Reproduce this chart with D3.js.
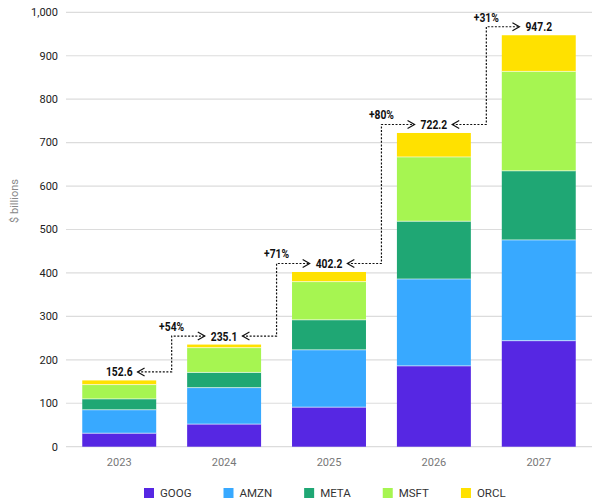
<!DOCTYPE html>
<html><head><meta charset="utf-8">
<script src="https://cdn.jsdelivr.net/npm/d3@7"></script>
<style>body{margin:0;background:#fff}svg{display:block}</style>
</head><body>
<svg id="c" width="600" height="503"></svg>
<script>
const years = ["2023","2024","2025","2026","2027"];
const seriesNames = ["GOOG","AMZN","META","MSFT","ORCL"];
const GOOG = [31, 52, 91, 186, 244];
const AMZN = [54, 84, 132, 200, 232];
const META = [25, 35, 69, 133, 159];
const MSFT = [33, 57, 88, 148, 229];
const ORCL = [9.6, 7.1, 22.2, 55.2, 83.2];
const totalLabels = ["152.6","235.1","402.2","722.2","947.2"];
const growthLabels = ["+54%","+71%","+80%","+31%"];
const yTicks = [0,100,200,300,400,500,600,700,800,900,1000];
const colors = ["#5627E3","#38A9FF","#1FA774","#A6F551","#FFE100"];

const svg = d3.select("#c");
const x = d3.scaleBand().domain(years).range([66, 592]).paddingInner(0.295).paddingOuter(0.155);
const y = d3.scaleLinear().domain([0, 1000]).range([446.7, 12.3]);

const rows = years.map((yr, i) => ({year: yr, GOOG: GOOG[i], AMZN: AMZN[i], META: META[i], MSFT: MSFT[i], ORCL: ORCL[i]}));
const stack = d3.stack().keys(seriesNames)(rows);

// grid
svg.append("g").selectAll("line").data(yTicks).join("line")
  .attr("x1", 66).attr("x2", 592)
  .attr("y1", d => y(d)).attr("y2", d => y(d))
  .attr("stroke", "#dcdcdc").attr("stroke-width", 1.2);
svg.append("g").selectAll("text").data(yTicks).join("text")
  .attr("x", 58).attr("y", d => y(d)).attr("dy", "0.35em")
  .attr("text-anchor", "end").attr("font-family", "Roboto, sans-serif")
  .attr("font-size", 11).attr("fill", "#222").text(d => d3.format(",")(d));

svg.append("text").attr("transform", "translate(18,201) rotate(-90)")
  .attr("text-anchor", "middle").attr("font-family", "Roboto, sans-serif")
  .attr("font-size", 11).attr("fill", "#888").text("$ billions");

// bars
stack.forEach((s, si) => {
  svg.append("g").selectAll("rect").data(s).join("rect")
    .attr("x", d => x(d.data.year)).attr("width", x.bandwidth())
    .attr("y", d => y(d[1])).attr("height", d => y(d[0]) - y(d[1]))
    .attr("fill", colors[si]);
});
// thin separators
stack.slice(1).forEach(s => {
  svg.append("g").selectAll("line").data(s).join("line")
    .attr("x1", d => x(d.data.year)).attr("x2", d => x(d.data.year) + x.bandwidth())
    .attr("y1", d => y(d[0])).attr("y2", d => y(d[0]))
    .attr("stroke", "#fff").attr("stroke-opacity", 0.6).attr("stroke-width", 1);
});

// x labels
svg.append("g").selectAll("text").data(years).join("text")
  .attr("x", d => x(d) + x.bandwidth() / 2).attr("y", 466)
  .attr("text-anchor", "middle").attr("font-family", "Roboto, sans-serif")
  .attr("font-size", 11).attr("fill", "#777").text(d => d);

// condensed bold label helper
const SX = 0.86;
function boldLabel(cx, by, txt) {
  const t = svg.append("text")
    .attr("transform", `translate(${cx},${by}) scale(${SX},1)`)
    .attr("text-anchor", "middle").attr("font-family", "Roboto, sans-serif")
    .attr("font-weight", "bold").attr("font-size", 12).attr("fill", "#111")
    .text(txt);
  const w = t.node().getComputedTextLength() * SX;
  return {left: cx - w / 2, right: cx + w / 2};
}

// totals
const totals = rows.map(r => seriesNames.reduce((a, k) => a + r[k], 0));
const labelBoxes = years.map((yr, i) =>
  boldLabel(x(yr) + x.bandwidth() / 2, y(totals[i]) - 4, totalLabels[i]));

// connectors
const ag = svg.append("g").attr("fill", "none").attr("stroke", "#111").attr("stroke-width", 1.2);
for (let i = 0; i < years.length - 1; i++) {
  const yA = y(totals[i]) - 8.5;
  const yB = y(totals[i + 1]) - 8.5;
  const xa = labelBoxes[i].right + 5;
  const xb = labelBoxes[i + 1].left - 6;
  const xv = (x(years[i]) + x.bandwidth() + x(years[i + 1])) / 2;
  ag.append("path").attr("d", `M${xa},${yA}H${xv}V${yB}H${xb}`)
    .attr("stroke-dasharray", "2,1.6");
  ag.append("path").attr("d", `M${xa + 7},${yA - 4}L${xa},${yA}L${xa + 7},${yA + 4}`);
  ag.append("path").attr("d", `M${xb - 7},${yB - 4}L${xb},${yB}L${xb - 7},${yB + 4}`);
  boldLabel(xv, yB - 5, growthLabels[i]);
}

// legend
const lg = svg.append("g");
let lx = 144;
seriesNames.forEach((n, i) => {
  lg.append("rect").attr("x", lx).attr("y", 488).attr("width", 10).attr("height", 10).attr("fill", colors[i]);
  const t = lg.append("text").attr("x", lx + 16).attr("y", 493).attr("dy", "0.35em")
    .attr("font-family", "Roboto, sans-serif").attr("font-size", 11.5).attr("fill", "#333").text(n);
  lx += 16 + t.node().getComputedTextLength() + 32;
});
</script>
</body></html>
